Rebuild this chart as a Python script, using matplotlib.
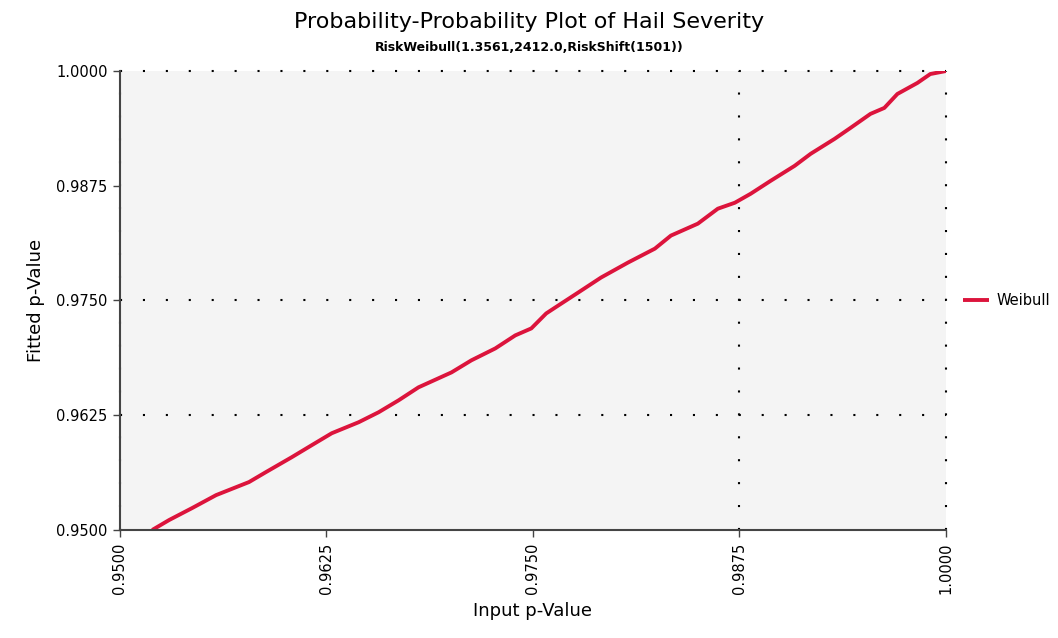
import matplotlib
matplotlib.use("Agg")
import matplotlib.pyplot as plt

# points
input_p = [0.95195, 0.95298, 0.95437, 0.95582, 0.95781, 0.95883, 0.96040, 0.96161,
           0.96282, 0.96445, 0.96566, 0.96687, 0.96807, 0.97007, 0.97127, 0.97272,
           0.97393, 0.97490, 0.97580, 0.97635, 0.97774, 0.97912, 0.98075, 0.98238,
           0.98335, 0.98498, 0.98619, 0.98722, 0.98818, 0.98939, 0.99084, 0.99181,
           0.99326, 0.99422, 0.99543, 0.99627, 0.99706, 0.99827, 0.99905, 1.00000]
fitted_p = [0.95000, 0.95109, 0.95239, 0.95380, 0.95522, 0.95630, 0.95793, 0.95924,
            0.96054, 0.96174, 0.96283, 0.96413, 0.96554, 0.96717, 0.96848, 0.96978,
            0.97120, 0.97196, 0.97359, 0.97424, 0.97587, 0.97750, 0.97913, 0.98065,
            0.98207, 0.98337, 0.98500, 0.98565, 0.98663, 0.98804, 0.98967, 0.99098,
            0.99261, 0.99380, 0.99533, 0.99598, 0.99750, 0.99870, 0.99967, 1.00000]
ticks = [0.95, 0.9625, 0.975, 0.9875, 1.0]
tick_labels = ["0.9500", "0.9625", "0.9750", "0.9875", "1.0000"]
# only some gridlines are drawn in the original
hgrid = [0.9625, 0.975, 1.0]
vgrid = [0.95, 0.9875, 1.0]

fig = plt.figure(figsize=(10.58, 6.38), dpi=100)
ax = fig.add_axes([0.1134, 0.1693, 0.7807, 0.7194])
ax.set_facecolor("#f4f4f4")

ax.plot(input_p, fitted_p, color="#dc143c", lw=2.8, label="Weibull",
        solid_capstyle="butt", zorder=3)

ax.set_xlim(0.95, 1.0)
ax.set_ylim(0.95, 1.0)
ax.set_xticks(ticks)
ax.set_xticklabels(tick_labels, rotation=90, fontsize=10.5)
ax.set_yticks(ticks)
ax.set_yticklabels(tick_labels, fontsize=10.5)
ax.tick_params(length=5, width=1, color="#444444", pad=4)

dots = (0, (1, 10))
for v in hgrid:
    ax.axhline(v, color="black", lw=1.5, linestyle=dots, clip_on=False, zorder=2)
for v in vgrid:
    ax.axvline(v, color="black", lw=1.5, linestyle=dots, clip_on=False, zorder=2)

for s in ("top", "right"):
    ax.spines[s].set_visible(False)
for s in ("left", "bottom"):
    ax.spines[s].set_color("#444444")
    ax.spines[s].set_linewidth(1.5)
    ax.spines[s].set_zorder(5)

ax.set_xlabel("Input p-Value", fontsize=13, labelpad=6)
ax.set_ylabel("Fitted p-Value", fontsize=13, labelpad=8)

fig.text(0.5, 0.965, "Probability-Probability Plot of Hail Severity",
         ha="center", va="center", fontsize=16)
fig.text(0.5, 0.925, "RiskWeibull(1.3561,2412.0,RiskShift(1501))",
         ha="center", va="center", fontsize=9, fontweight="bold")

ax.legend(loc="center left", bbox_to_anchor=(1.005, 0.5), frameon=False,
          fontsize=10.5, handlelength=1.8, handletextpad=0.5)

fig.savefig("out.png", dpi=100)
